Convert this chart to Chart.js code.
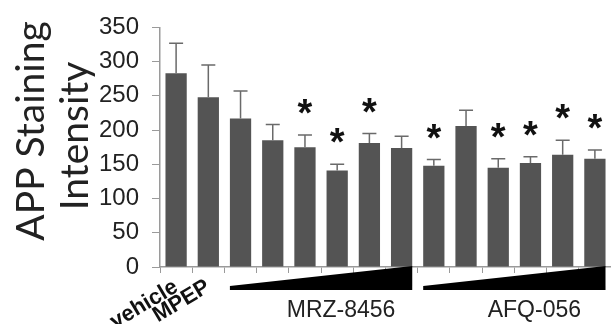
<!DOCTYPE html>
<html>
<head>
<meta charset="utf-8">
<script src="https://cdn.jsdelivr.net/npm/chart.js@4.4.1/dist/chart.umd.min.js"></script>
<style>
  html, body { margin: 0; padding: 0; background: #fff; }
  #wrap { width: 611px; height: 324px; }
</style>
</head>
<body>
<div id="wrap"><canvas id="chart" width="611" height="324"></canvas></div>
<script>
// values
const categories = ['vehicle', 'MPEP', '', '', '', '', '', '', '', '', '', '', '', ''];
const means = [283, 248, 217, 185, 175, 141, 181, 174, 148, 206, 145, 152, 164, 158];
const errUpper = [327, 295, 257, 208, 193, 150, 195, 191, 157, 229, 158, 161, 185, 171];
const significant = [false, false, false, false, true, true, true, false, true, false, true, true, true, true];
const yTicks = [0, 50, 100, 150, 200, 250, 300, 350];
const groupLabels = ['MRZ-8456', 'AFQ-056'];
const groupStart = [2, 8];
const groupEnd = [7, 13];
const yTitle = ['APP Staining', 'Intensity'];

const BAR = '#545454';
const AXIS = '#9a9a9a';

const extras = {
  id: 'extras',
  afterDatasetsDraw(chart) {
    const ctx = chart.ctx;
    const meta = chart.getDatasetMeta(0);
    const y = chart.scales.y;
    const x = chart.scales.x;
    ctx.save();
    // error bars (upper only) and stars
    meta.data.forEach((bar, i) => {
      const top = y.getPixelForValue(errUpper[i]);
      ctx.strokeStyle = '#6a6a6a';
      ctx.lineWidth = 1.5;
      ctx.beginPath();
      ctx.moveTo(bar.x, bar.y);
      ctx.lineTo(bar.x, top);
      ctx.moveTo(bar.x - 7, top);
      ctx.lineTo(bar.x + 7, top);
      ctx.stroke();
      if (significant[i]) {
        ctx.fillStyle = '#111';
        ctx.font = 'bold 38px "Liberation Sans", Arial, sans-serif';
        ctx.textAlign = 'center';
        ctx.textBaseline = 'alphabetic';
        ctx.fillText('*', bar.x, top - 9);
      }
    });
    // dose wedges + group names
    const half = meta.data[0].width / 2;
    const base = chart.chartArea.bottom;
    groupLabels.forEach((name, g) => {
      const x0 = x.getPixelForValue(groupStart[g]) - half;
      const x1 = x.getPixelForValue(groupEnd[g]) + half;
      ctx.fillStyle = '#000';
      ctx.beginPath();
      ctx.moveTo(x0, base + 19);
      ctx.lineTo(x0, base + 23);
      ctx.lineTo(x1, base + 23);
      ctx.lineTo(x1, base - 1);
      ctx.closePath();
      ctx.fill();
      ctx.fillStyle = '#222';
      ctx.font = '23px "Liberation Sans", Arial, sans-serif';
      ctx.textAlign = 'center';
      ctx.textBaseline = 'middle';
      ctx.fillText(name, (x0 + x1) / 2 + 20, base + 44);
    });
    // y title, two rotated lines
    ctx.fillStyle = '#222';
    ctx.font = '39px Lato, sans-serif';
    ctx.textAlign = 'center';
    ctx.textBaseline = 'middle';
    [[31, 131], [75, 136]].forEach((p, k) => {
      ctx.save();
      ctx.translate(p[0], p[1]);
      ctx.rotate(-Math.PI / 2);
      ctx.fillText(yTitle[k], 0, 0);
      ctx.restore();
    });
    ctx.restore();
  }
};

new Chart(document.getElementById('chart'), {
  type: 'bar',
  data: {
    labels: categories,
    datasets: [{
      data: means,
      backgroundColor: BAR,
      barPercentage: 0.66,
      categoryPercentage: 1.0
    }]
  },
  options: {
    responsive: false,
    animation: false,
    devicePixelRatio: 1,
    layout: { padding: { top: 14, right: 0, left: 0, bottom: 0 } },
    plugins: { legend: { display: false }, tooltip: { enabled: false } },
    scales: {
      x: {
        afterFit(s) { s.height = 57; },
        border: { color: AXIS, width: 1.5 },
        grid: { drawOnChartArea: false, color: AXIS, tickLength: 6, offset: true },
        ticks: {
          minRotation: 31,
          maxRotation: 31,
          autoSkip: false,
          padding: 1,
          color: '#111',
          font: { family: '"Liberation Sans", Arial, sans-serif', size: 22, weight: 'bold' }
        }
      },
      y: {
        min: 0,
        max: 350,
        afterFit(s) { s.width = 160; },
        afterBuildTicks(s) { s.ticks = yTicks.map(v => ({ value: v })); },
        border: { color: AXIS, width: 1.5 },
        grid: { drawOnChartArea: false, color: AXIS, tickLength: 8 },
        ticks: {
          padding: 13,
          color: '#222',
          font: { family: '"Liberation Sans", Arial, sans-serif', size: 24 }
        }
      }
    }
  },
  plugins: [extras]
});
</script>
</body>
</html>
